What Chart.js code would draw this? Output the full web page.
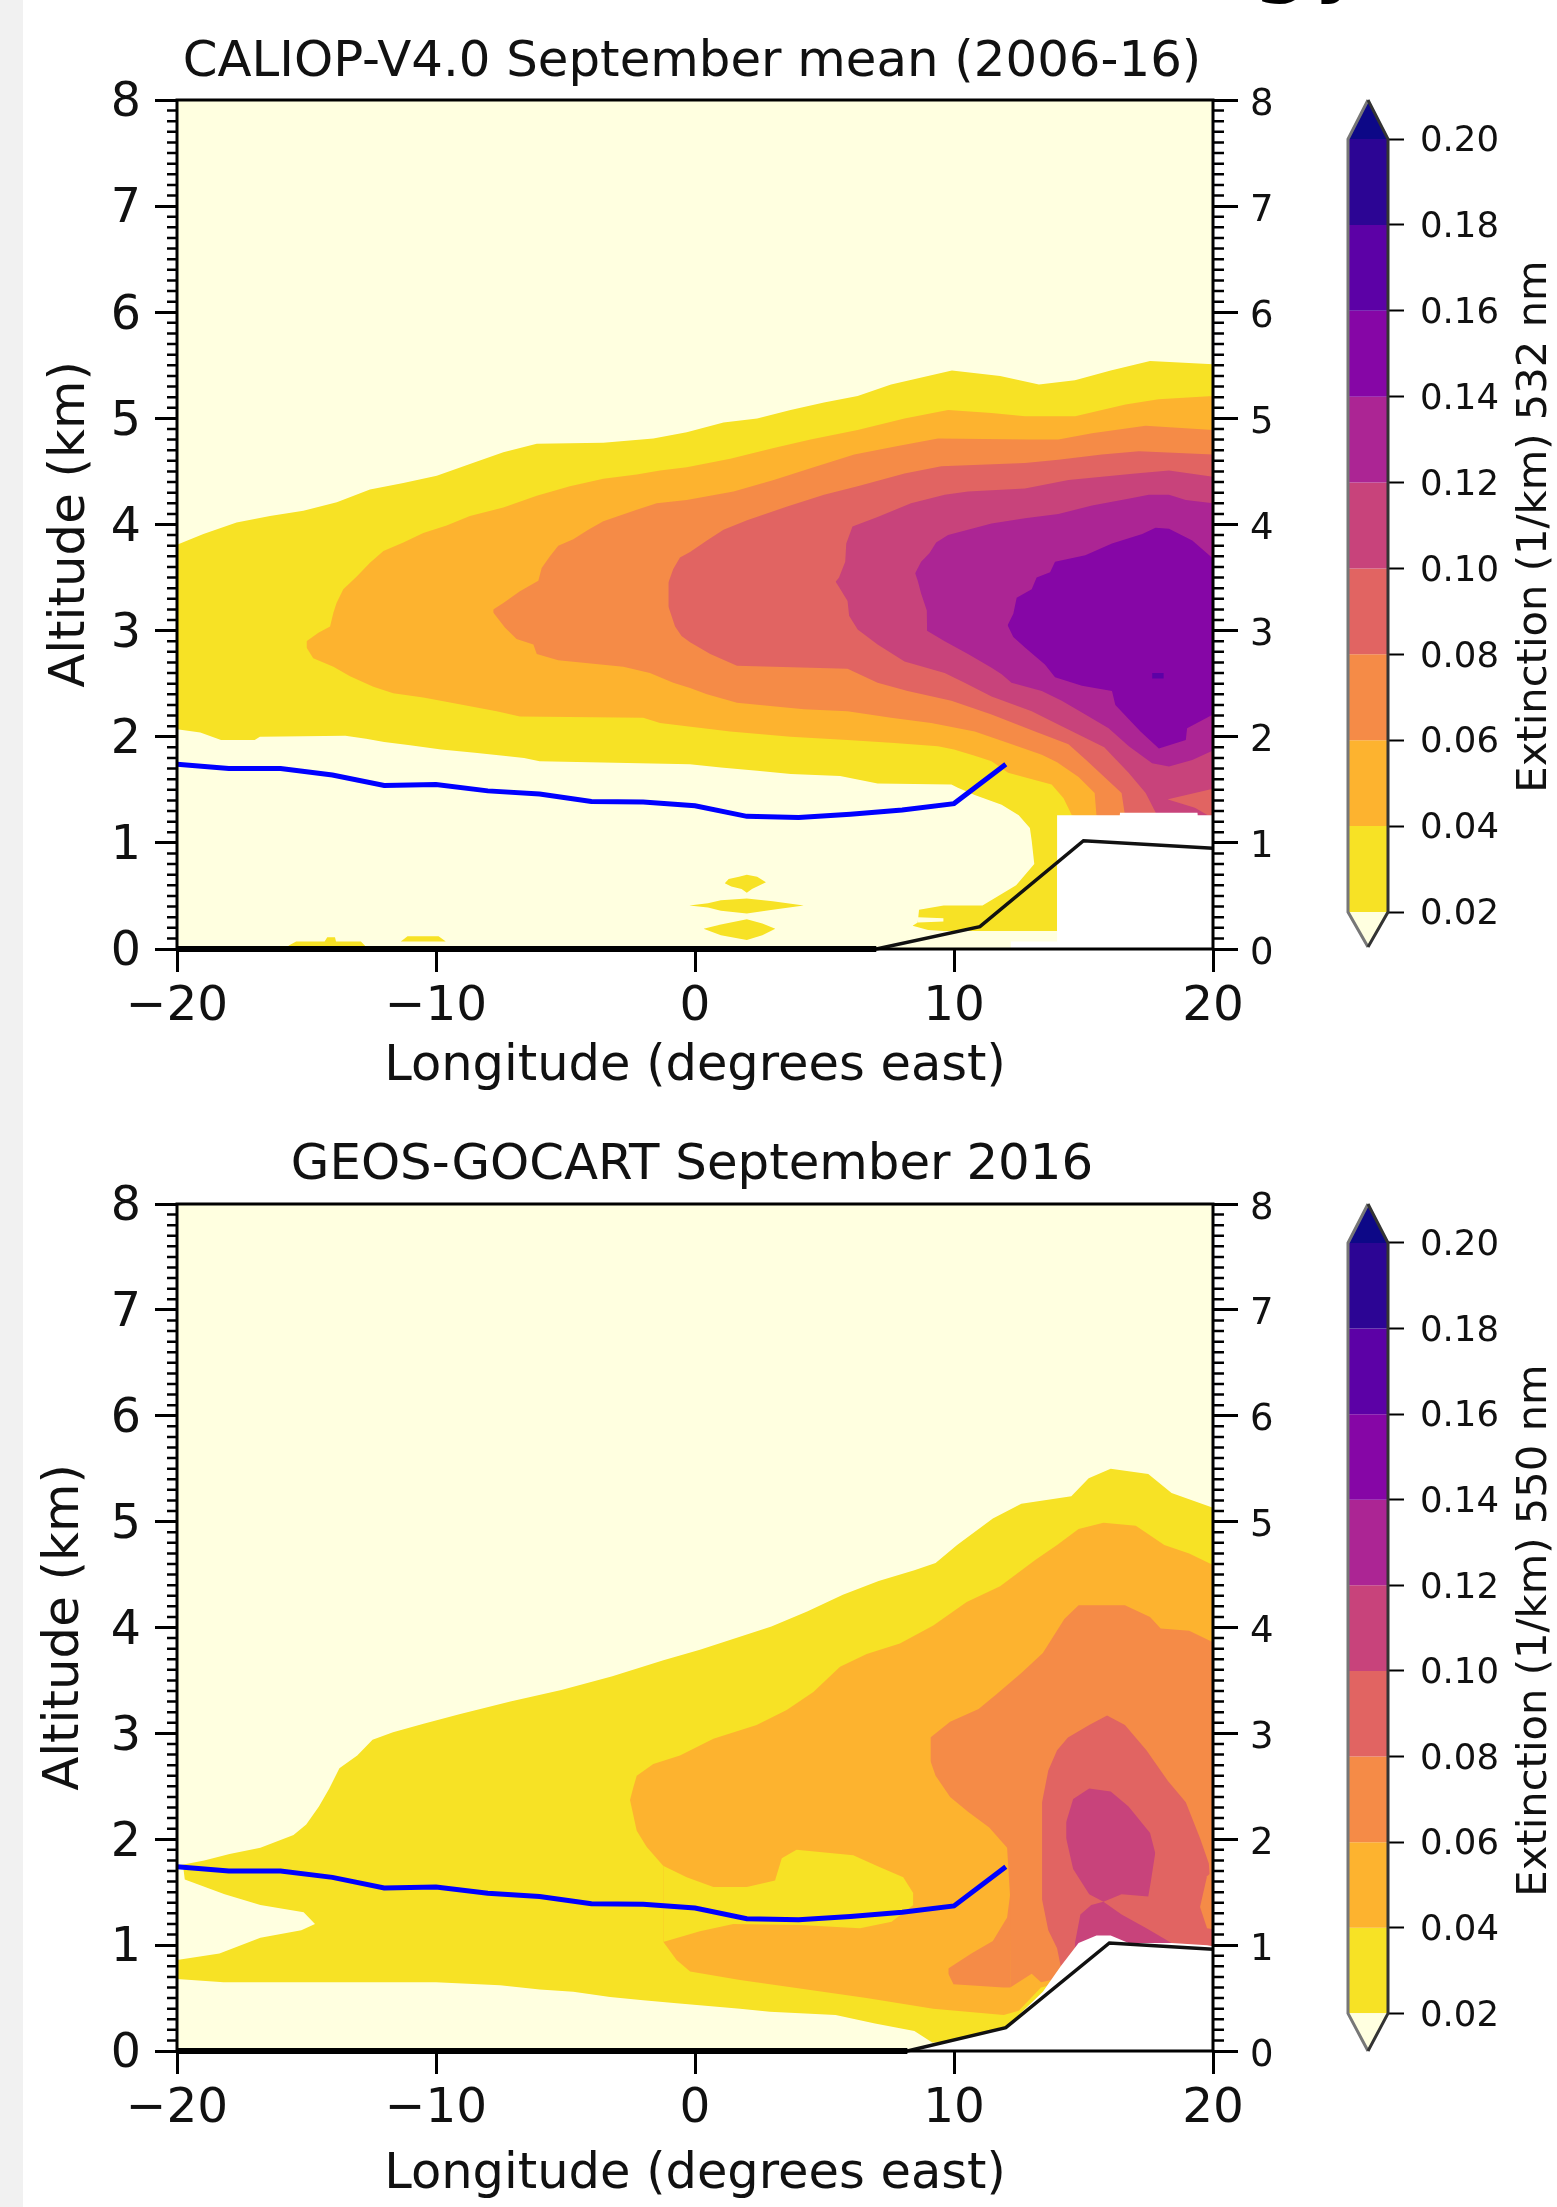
<!DOCTYPE html>
<html>
<head>
<meta charset="utf-8">
<title>CALIOP and GEOS-GOCART extinction</title>
<script src="https://cdn.jsdelivr.net/npm/chart.js@4"></script>
<style>
  html, body { margin: 0; padding: 0; background: #fff; }
  body { position: relative; width: 1557px; height: 2207px; overflow: hidden; }
  canvas { position: absolute; }
  #strip { position: absolute; left: 0; top: 0; width: 23px; height: 2207px; background: #f1f1f1; }
  #cut { position: absolute; left: 1250px; top: -101px; font: 100px/100px "DejaVu Sans"; color: #000; }
</style>
</head>
<body>
<div id="strip"></div>
<div id="cut">gy</div>
<canvas id="top" width="1384" height="1100" style="left:0;top:0"></canvas>
<canvas id="bottom" width="1384" height="1107" style="left:0;top:1100px"></canvas>
<canvas id="barTop" width="267" height="870" style="left:1290px;top:90px"></canvas>
<canvas id="barBottom" width="267" height="870" style="left:1290px;top:1194px"></canvas>
<script>
'use strict';

const xTicks = [-20, -10, 0, 10, 20];
const xTickLabels = ['\u221220', '\u221210', '0', '10', '20'];
const yTicks = [0, 1, 2, 3, 4, 5, 6, 7, 8];
const levels = [0.02, 0.04, 0.06, 0.08, 0.10, 0.12, 0.14, 0.16, 0.18, 0.20];
const levelLabels = ['0.02', '0.04', '0.06', '0.08', '0.10', '0.12', '0.14', '0.16', '0.18', '0.20'];
const underColor = '#ffffe0';
const bandColors = ['#f7e225', '#fdb32f', '#f58b47', '#e16462', '#c8437b', '#ac2594', '#8606a6', '#5c01a6', '#2c0594'];
const overColor = '#0d0887';

// both panels share these curves, [longitude, km]
const pblHeight = [[-20,1.74],[-18,1.70],[-16,1.70],[-14,1.64],[-12,1.54],[-10,1.55],[-8,1.49],[-6,1.46],[-4,1.39],[-2,1.385],[0,1.35],[2,1.25],[4,1.24],[6,1.27],[8,1.31],[10,1.37],[12,1.74]];
const groundTop = [[-20,0],[7,0],[11,0.21],[15,1.02],[20,0.95]];
const groundBottom = [[-20,0],[8.2,0],[12,0.22],[16,1.02],[20,0.96]];

//////////////////// CALIOP contours, edges as [longitude, km] ////////////////////
const cal02Top = [[-20,3.81],[-18.98,3.91],[-17.7,4.02],[-16.41,4.08],[-15.12,4.13],[-13.83,4.21],[-12.55,4.33],[-11.26,4.39],[-9.97,4.46],[-8.69,4.57],[-7.4,4.68],[-6.11,4.76],[-3.54,4.77],[-1.61,4.81],[-0.32,4.87],[1.1,4.96],[2.4,5.0],[3.69,5.08],[4.98,5.15],[6.28,5.21],[7.57,5.32],[9.92,5.45],[11.78,5.40],[13.28,5.32],[14.67,5.36],[16.05,5.45],[17.57,5.54],[20,5.51]];
const cal02Bot = [[-20,2.07],[-19.1,2.04],[-18.3,1.97],[-17,1.97],[-16.8,2.0],[-13.5,2.01],[-12.7,1.98],[-12,1.95],[-11,1.92],[-9.8,1.88],[-8.5,1.85],[-7.4,1.82],[-6.6,1.80],[-6,1.77],[-0.2,1.74],[1.0,1.71],[2.4,1.68],[3.7,1.65],[5.6,1.63],[7.05,1.56],[9.9,1.55],[10.15,1.52],[10.8,1.45],[11.84,1.36],[12.5,1.26],[12.93,1.14],[13.0,1.02],[13.1,0.8],[20,0.8]];
const calLumpTop = [[8.4,0.22],[8.6,0.25],[8.65,0.37],[9.6,0.41],[11.1,0.41],[12.4,0.6],[13.1,0.8],[13.98,0.82]];
const calLumpBot = [[8.4,0.22],[9,0.18],[9.6,0.17],[13.98,0.17]];
const calSlitTop = [[8.6,0.3],[9.6,0.29]];
const calSlitBot = [[8.6,0.25],[9.6,0.26]];
const calBlobATop = [[1.15,0.62],[1.3,0.66],[1.7,0.68],[2.0,0.70],[2.4,0.68],[2.74,0.63]];
const calBlobABot = [[1.15,0.62],[1.4,0.59],[1.8,0.565],[2.0,0.53],[2.2,0.565],[2.74,0.63]];
const calBlobBTop = [[-0.22,0.41],[0.5,0.43],[1.0,0.46],[2,0.475],[3,0.45],[4.2,0.41]];
const calBlobBBot = [[-0.22,0.41],[0.5,0.39],[1,0.36],[2,0.335],[3,0.37],[4.2,0.41]];
const calBlobCTop = [[0.33,0.19],[1,0.23],[2,0.28],[2.6,0.24],[3.1,0.19]];
const calBlobCBot = [[0.33,0.19],[1,0.13],[2,0.085],[2.6,0.13],[3.1,0.19]];
const calBlobDTop = [[-15.7,0.03],[-15.4,0.07],[-14.3,0.07],[-14.2,0.11],[-13.9,0.11],[-13.86,0.07],[-12.9,0.07],[-12.74,0.03]];
const calBlobDBot = [[-15.7,0],[-12.74,0]];
const calBlobETop = [[-11.36,0.07],[-11.1,0.12],[-9.9,0.12],[-9.62,0.07]];
const calBlobEBot = [[-11.36,0.07],[-9.62,0.07]];
const cal04Top = [[-15.0,2.90],[-14.54,2.98],[-14.09,3.04],[-13.96,3.17],[-13.84,3.26],[-13.58,3.39],[-13.06,3.51],[-12.55,3.64],[-12.03,3.75],[-11.26,3.83],[-10.49,3.92],[-9.59,3.99],[-8.69,4.08],[-7.4,4.16],[-6.11,4.27],[-4.83,4.36],[-3.54,4.43],[-2.25,4.47],[-1.35,4.51],[-0.32,4.54],[1.36,4.62],[3.04,4.72],[4.46,4.80],[6.28,4.89],[8.09,5.0],[9.77,5.08],[11.45,5.05],[12.74,5.02],[14.68,5.02],[16.62,5.13],[17.9,5.18],[20,5.21]];
const cal04Bot = [[-15.0,2.84],[-14.74,2.74],[-13.96,2.66],[-13.32,2.57],[-12.42,2.47],[-11.65,2.41],[-10.49,2.37],[-8.94,2.30],[-7.66,2.24],[-6.76,2.19],[-2.0,2.18],[-1.35,2.13],[-0.32,2.10],[1.36,2.05],[3.69,2.0],[5.89,1.97],[7.7,1.94],[9.38,1.91],[10.0,1.88],[10.8,1.82],[11.45,1.77],[12.09,1.66],[12.87,1.61],[13.77,1.55],[14.23,1.42],[14.55,1.26],[20,1]];
const cal06Top = [[-7.79,3.20],[-7.4,3.26],[-6.76,3.37],[-6.05,3.47],[-5.92,3.59],[-5.6,3.7],[-5.28,3.8],[-4.7,3.86],[-4.12,3.95],[-3.54,4.03],[-2.25,4.14],[-1.48,4.2],[-0.32,4.23],[1.49,4.31],[3.04,4.42],[4.46,4.53],[6.15,4.66],[7.83,4.74],[9.38,4.81],[12.87,4.80],[14.03,4.80],[15.33,4.86],[17.4,4.93],[20,4.89]];
const cal06Bot = [[-7.79,3.17],[-7.34,3.03],[-6.89,2.92],[-6.24,2.87],[-6.11,2.78],[-5.28,2.72],[-2.77,2.66],[-1.74,2.60],[-0.84,2.51],[-0.19,2.46],[0.46,2.40],[1.62,2.32],[2.91,2.29],[4.21,2.26],[5.89,2.24],[7.57,2.18],[9.12,2.13],[10.8,2.05],[12.09,1.94],[13.39,1.83],[13.98,1.76],[14.81,1.62],[15.43,1.47],[15.5,1.26],[20,1]];
const cal08Top = [[-1.03,3.45],[-0.84,3.58],[-0.58,3.69],[-0.19,3.74],[0.46,3.85],[1.1,3.95],[2.01,4.04],[3.56,4.17],[4.98,4.28],[6.28,4.36],[8.09,4.48],[9.51,4.55],[12.74,4.58],[14.03,4.61],[15.71,4.66],[17.14,4.69],[20,4.66]];
const cal08Bot = [[-1.03,3.23],[-0.77,3.04],[-0.52,2.95],[-0.19,2.89],[0.59,2.78],[1.62,2.67],[5.89,2.64],[7.05,2.51],[8.21,2.43],[9.9,2.34],[11.45,2.21],[13.13,2.05],[14.42,1.93],[15.1,1.78],[16.47,1.47],[16.6,1.26],[20,1]];
const cal10Top = [[5.43,3.46],[5.56,3.5],[5.8,3.65],[5.84,3.82],[6.08,3.98],[7.05,4.07],[8.34,4.2],[9.64,4.28],[10.54,4.31],[12.74,4.34],[14.42,4.42],[15.71,4.45],[17.0,4.48],[18.3,4.51],[20,4.45]];
const cal10Bot = [[5.43,3.46],[5.56,3.41],[5.89,3.28],[5.95,3.14],[6.28,3.01],[7.05,2.87],[8.09,2.71],[9.64,2.6],[10.41,2.51],[11.45,2.38],[13,2.24],[14.16,2.1],[15.8,1.9],[16.74,1.66],[17.4,1.47],[17.8,1.28],[20,1]];
const cal12Top = [[8.5,3.54],[8.73,3.65],[9.05,3.73],[9.31,3.83],[9.77,3.9],[11.45,4.01],[12.74,4.06],[14.03,4.1],[15.33,4.18],[16.88,4.25],[17.52,4.28],[18.3,4.28],[18.95,4.23],[20,4.2]];
const cal12Bot = [[8.5,3.54],[8.6,3.47],[8.73,3.35],[8.95,3.19],[8.96,3.0],[9.64,2.9],[10.54,2.78],[11.45,2.65],[11.84,2.59],[12.22,2.51],[13.39,2.43],[14.16,2.34],[15.07,2.21],[15.97,2.08],[16.75,1.91],[17.65,1.75],[18.3,1.72],[19.2,1.78],[20,1.87]];
const cal14Top = [[12.07,3.05],[12.29,3.16],[12.42,3.31],[13.0,3.39],[13.19,3.5],[13.71,3.55],[13.9,3.65],[15.07,3.71],[16.1,3.82],[17.27,3.91],[17.78,3.97],[18.3,3.96],[19.2,3.85],[20,3.68]];
const cal14Bot = [[12.07,3.05],[12.29,2.94],[12.74,2.84],[13.51,2.68],[13.9,2.56],[14.94,2.48],[16.1,2.43],[16.23,2.3],[17.2,2.05],[17.91,1.89],[18.95,1.97],[19.0,2.08],[20,2.21]];
const cal16Top = [[17.65,2.6],[18.1,2.6]];
const cal16Bot = [[17.65,2.55],[18.1,2.55]];
const calWedgeTop = [[18.26,1.41],[20,1.51]];
const calWedgeBot = [[18.26,1.41],[19.3,1.33],[19.8,1.26],[20,1.26]];
const calGapTop = [[13.98,1.26],[16.4,1.26],[16.41,1.285],[19.4,1.285],[19.41,1.26],[20,1.26]];
const calGapBot = [[13.98,0],[20,0]];
const calGapLowTop = [[12.2,0.07],[13.98,0.07]];
const calGapLowBot = [[12.2,0],[13.98,0]];

//////////////////// GEOS contours ////////////////////
const geo02Top = [[-20,1.75],[-18.95,1.80],[-17.97,1.86],[-16.78,1.92],[-15.5,2.04],[-15.01,2.14],[-14.52,2.31],[-14.12,2.48],[-13.73,2.67],[-13.04,2.79],[-12.45,2.94],[-11.66,3.01],[-10.48,3.09],[-9.1,3.18],[-7.13,3.30],[-5.16,3.41],[-3.19,3.54],[-1.22,3.69],[0.19,3.79],[2.95,4.01],[4.33,4.15],[5.71,4.31],[7.09,4.44],[8.47,4.54],[9.29,4.61],[10.12,4.78],[11.5,5.03],[12.6,5.17],[14.53,5.24],[15.2,5.41],[16.05,5.5],[17.5,5.45],[18.4,5.27],[20,5.13]];
const geo02Bot = [[-20,0.68],[-18.2,0.65],[-10,0.65],[-7.53,0.62],[-5.99,0.58],[-4.7,0.56],[-3.28,0.51],[-2,0.48],[-0.71,0.45],[1.74,0.40],[2.89,0.37],[5.43,0.34],[6.95,0.26],[8.47,0.19],[9.16,0.08],[10.95,0.08],[11.36,0.12],[12.05,0.22],[20,0.5]];
const geoNotchTop = [[-20,1.75],[-19.75,1.72],[-19.7,1.62],[-18.16,1.48],[-16.78,1.38],[-15.11,1.31],[-14.67,1.2]];
const geoNotchBot = [[-20,0.86],[-18.36,0.92],[-16.78,1.07],[-15.2,1.14],[-14.67,1.2]];
const geo04Top = [[-2.51,2.37],[-2.38,2.49],[-2.25,2.6],[-1.61,2.71],[-0.58,2.79],[0.71,2.95],[2.38,3.08],[3.54,3.22],[4.57,3.39],[5.6,3.63],[6.63,3.75],[7.91,3.85],[9.2,4.02],[10.49,4.24],[11.78,4.39],[13.15,4.64],[13.98,4.78],[14.81,4.93],[15.77,4.99],[17.02,4.96],[18.12,4.78],[19.08,4.7],[20,4.59]];
const geo04Bot = [[-2.51,2.37],[-2.25,2.08],[-1.87,1.93],[-1.23,1.75],[-1.22,1.03],[-0.71,0.86],[-0.19,0.75],[1.74,0.67],[4.05,0.59],[6.62,0.5],[9.2,0.4],[11.92,0.34],[12.5,0.38],[13.36,0.6],[20,1]];
const geoBayTop = [[-1.23,1.75],[-0.32,1.64],[0.71,1.55],[2,1.55],[3.09,1.61],[3.35,1.82],[3.92,1.9],[6.11,1.85],[7.01,1.75],[8.04,1.64],[8.43,1.49]];
const geoBayBot = [[-1.23,1.03],[0.19,1.13],[1.48,1.2],[4.05,1.19],[6.37,1.16],[7.59,1.22],[8.43,1.38]];
const geo06Top = [[9.09,2.96],[9.85,3.11],[10.95,3.23],[11.64,3.37],[12.6,3.57],[13.43,3.76],[14.26,4.08],[14.81,4.21],[16.6,4.21],[17.57,4.1],[17.98,3.99],[19.08,3.97],[20,3.86]];
const geo06Bot = [[9.09,2.74],[9.29,2.6],[9.85,2.4],[10.54,2.26],[11.36,2.11],[12.05,1.92],[12.16,1.48],[12.17,0.6],[13,0.73],[13.36,0.65],[20,1]];
const geoLobeTop = [[9.78,0.78],[10.67,0.92],[11.5,1.04],[12.05,1.26],[12.17,1.48]];
const geoLobeBot = [[9.78,0.73],[9.98,0.63],[11.91,0.6],[12.17,0.6]];
const geo08Top = [[13.4,2.35],[13.64,2.65],[13.98,2.84],[14.4,2.96],[15.22,3.08],[15.91,3.17],[16.6,3.08],[17.43,2.84],[18.26,2.55],[18.95,2.35],[19.5,2.01],[19.84,1.77],[20,1.15]];
const geo08Bot = [[13.4,1.43],[13.64,1.14],[13.98,0.97],[14.12,0.8],[20,0.9]];
const geoSideTop = [[19.5,1.36],[19.77,1.65],[20,1.7]];
const geoSideBot = [[19.5,1.36],[19.77,1.16],[20,1.15]];
const geo10aTop = [[14.33,2.16],[14.6,2.38],[15.22,2.48],[16.05,2.45],[16.74,2.31],[17.57,2.06],[17.77,1.87]];
const geo10aBot = [[14.33,2.01],[14.6,1.72],[15.22,1.48],[15.77,1.41],[16.47,1.48],[17.5,1.46],[17.6,1.6],[17.77,1.87]];
const geo10bTop = [[14.67,1.02],[14.88,1.29],[15.3,1.38],[15.77,1.41],[16.47,1.29],[17.43,1.16],[18.4,1.02]];
const geo10bBot = [[14.67,0.9],[18.4,0.9]];
const geoGapTop = [[8.19,0],[12,0.22],[13.43,0.56],[14.12,0.8],[14.81,1.02],[15.5,1.09],[16.05,1.09],[16.74,1.02],[18.4,1.02],[19.77,1.0],[20,0.99]];
const geoGapBot = [[8.19,0],[20,0]];

const wholeTop = [[-20,8],[20,8]];
const wholeBot = [[-20,0],[20,0]];

const [c02, c04, c06, c08, c10, c12, c14, c16] = bandColors;

// painted in this order, later ones on top
const caliopLayers = [
  [underColor, wholeTop, wholeBot],
  [c02, cal02Top, cal02Bot], [c02, calLumpTop, calLumpBot], [underColor, calSlitTop, calSlitBot],
  [c02, calBlobATop, calBlobABot], [c02, calBlobBTop, calBlobBBot], [c02, calBlobCTop, calBlobCBot],
  [c02, calBlobDTop, calBlobDBot], [c02, calBlobETop, calBlobEBot],
  [c04, cal04Top, cal04Bot], [c06, cal06Top, cal06Bot], [c08, cal08Top, cal08Bot], [c10, cal10Top, cal10Bot],
  [c12, cal12Top, cal12Bot], [c14, cal14Top, cal14Bot], [c16, cal16Top, cal16Bot], [c08, calWedgeTop, calWedgeBot],
  ['#ffffff', calGapTop, calGapBot], ['#ffffff', calGapLowTop, calGapLowBot]
];
const geosLayers = [
  [underColor, wholeTop, wholeBot],
  [c02, geo02Top, geo02Bot], [underColor, geoNotchTop, geoNotchBot],
  [c04, geo04Top, geo04Bot], [c02, geoBayTop, geoBayBot],
  [c06, geo06Top, geo06Bot], [c06, geoLobeTop, geoLobeBot],
  [c08, geo08Top, geo08Bot], [c06, geoSideTop, geoSideBot],
  [c10, geo10aTop, geo10aBot], [c10, geo10bTop, geo10bBot],
  ['#ffffff', geoGapTop, geoGapBot]
];

const FONT = '"DejaVu Sans"';
const TEXT = '#111';

function toPoints(pairs) {
  return pairs.map(function (p) { return {x: p[0], y: p[1]}; });
}

function buildDatasets(layers, lines) {
  const sets = [];
  layers.forEach(function (l) {
    sets.push({data: toPoints(l[1]), fill: '+1', backgroundColor: l[0], borderWidth: 0, pointRadius: 0});
    sets.push({data: toPoints(l[2]), fill: false, borderWidth: 0, pointRadius: 0});
  });
  lines.forEach(function (l) {
    sets.push({data: toPoints(l.pairs), fill: false, borderColor: l.color, borderWidth: l.width, pointRadius: 0, clip: l.clip});
  });
  // chart.js paints the highest order first
  sets.forEach(function (s, i) { s.order = 1000 - i; });
  return sets;
}

const frame = {
  id: 'frame',
  afterDatasetsDraw(chart) {
    const ctx = chart.ctx;
    const a = chart.chartArea;
    ctx.save();
    ctx.strokeStyle = '#000';
    ctx.lineWidth = 3;
    ctx.strokeRect(a.left, a.top, a.right - a.left, a.bottom - a.top);
    ctx.lineWidth = 2.5;
    ctx.beginPath();
    for (let i = 1; i < 80; i++) {
      if (i % 10 === 0) continue;
      const py = chart.scales.y.getPixelForValue(i / 10);
      ctx.moveTo(a.left - 10, py);
      ctx.lineTo(a.left, py);
      ctx.moveTo(a.right, py);
      ctx.lineTo(a.right + 11, py);
    }
    ctx.stroke();
    ctx.restore();
  }
};

function panel(id, cfg) {
  return new Chart(document.getElementById(id), {
    type: 'line',
    data: {datasets: buildDatasets(cfg.layers, [
      {pairs: cfg.ground, color: '#111', width: 3.5, clip: false},
      {pairs: cfg.ground.slice(0, 2), color: '#000', width: 6, clip: false},
      {pairs: pblHeight, color: '#0000ff', width: 5}
    ])},
    plugins: [frame],
    options: {
      responsive: false,
      animation: false,
      events: [],
      layout: {padding: 0},
      plugins: {
        legend: {display: false},
        tooltip: {enabled: false},
        title: {
          display: true,
          text: cfg.title,
          color: TEXT,
          font: {family: FONT, size: 49.8, weight: 'normal', lineHeight: 1},
          padding: {top: cfg.titleTop, bottom: cfg.areaTop - cfg.titleTop - 49.8}
        }
      },
      scales: {
        x: {
          type: 'linear', min: -20, max: 20,
          afterBuildTicks(s) { s.ticks = xTicks.map(function (v) { return {value: v}; }); },
          afterFit(s) { s.height = cfg.bottomHeight; },
          grid: {drawOnChartArea: false, tickLength: 23, tickWidth: 3, tickColor: '#000'},
          border: {display: false},
          ticks: {
            autoSkip: false, maxRotation: 0, padding: 6, color: TEXT,
            font: {family: FONT, size: 48.5},
            callback: function (v, i) { return xTickLabels[i]; }
          },
          title: {
            display: true, text: 'Longitude (degrees east)', color: TEXT,
            font: {family: FONT, size: 49.5, lineHeight: 1},
            padding: {top: 0, bottom: cfg.xTitlePad}
          }
        },
        y: {
          type: 'linear', position: 'left', min: 0, max: 8,
          afterBuildTicks(s) { s.ticks = yTicks.map(function (v) { return {value: v}; }); },
          afterFit(s) { s.width = 177; },
          grid: {drawOnChartArea: false, tickLength: 22, tickWidth: 3, tickColor: '#000'},
          border: {display: false},
          ticks: {autoSkip: false, padding: 14, labelOffset: 4, color: TEXT, font: {family: FONT, size: 47.5}},
          title: {
            display: true, text: 'Altitude (km)', color: TEXT,
            font: {family: FONT, size: 49.8, lineHeight: 1},
            padding: {top: cfg.yTitlePad, bottom: 0}
          }
        },
        y2: {
          type: 'linear', position: 'right', min: 0, max: 8,
          afterBuildTicks(s) { s.ticks = yTicks.map(function (v) { return {value: v}; }); },
          afterFit(s) { s.width = 171; },
          grid: {drawOnChartArea: false, tickLength: 25, tickWidth: 3, tickColor: '#000'},
          border: {display: false},
          ticks: {autoSkip: false, padding: 12, labelOffset: 5, color: TEXT, font: {family: FONT, size: 37}}
        }
      }
    }
  });
}

panel('top', {
  layers: caliopLayers, ground: groundTop,
  title: 'CALIOP-V4.0 September mean (2006-16)',
  titleTop: 38, areaTop: 100, bottomHeight: 151, xTitlePad: 8.5, yTitlePad: 46
});
panel('bottom', {
  layers: geosLayers, ground: groundBottom,
  title: 'GEOS-GOCART September 2016',
  titleTop: 41, areaTop: 104, bottomHeight: 156, xTitlePad: 7.5, yTitlePad: 40.5
});

//////////////////// colour bars ////////////////////
const arrowHigh = 0.0091;

function colorbar(id, label, arrowLow) {
  const layers = [];
  for (let i = 0; i < bandColors.length; i++) {
    layers.push([bandColors[i], [[0, levels[i + 1]], [1, levels[i + 1]]], [[0, levels[i]], [1, levels[i]]]]);
  }
  const hi = levels[levels.length - 1];
  const lo = levels[0];
  layers.push([overColor, [[0, hi], [0.5, hi + arrowHigh], [1, hi]], [[0, hi], [1, hi]]]);
  layers.push([underColor, [[0, lo], [1, lo]], [[0, lo], [0.5, lo - arrowLow], [1, lo]]]);

  const leftEdge = [[0.5, lo - arrowLow], [0, lo], [0, hi], [0.5, hi + arrowHigh]];
  const rightEdge = [[0.5, lo - arrowLow], [1, lo], [1, hi], [0.5, hi + arrowHigh]];

  const barTitle = {
    id: 'barTitle',
    afterDraw(chart) {
      const ctx = chart.ctx;
      ctx.save();
      ctx.translate(245, (chart.chartArea.top + chart.chartArea.bottom) / 2 + 3);
      ctx.rotate(-Math.PI / 2);
      ctx.textAlign = 'center';
      ctx.textBaseline = 'middle';
      ctx.fillStyle = TEXT;
      ctx.font = '41.7px ' + FONT;
      ctx.fillText(label, 0, 0);
      ctx.restore();
    }
  };

  return new Chart(document.getElementById(id), {
    type: 'line',
    data: {datasets: buildDatasets(layers, [
      {pairs: leftEdge, color: '#777', width: 3, clip: false},
      {pairs: rightEdge, color: '#333', width: 3, clip: false}
    ])},
    plugins: [barTitle],
    options: {
      responsive: false,
      animation: false,
      events: [],
      layout: {padding: {left: 58, top: 10, bottom: 13}},
      plugins: {legend: {display: false}, tooltip: {enabled: false}},
      scales: {
        x: {type: 'linear', min: 0, max: 1, display: false},
        y: {
          type: 'linear', position: 'right', min: lo - arrowLow, max: hi + arrowHigh,
          afterBuildTicks(s) { s.ticks = levels.map(function (v) { return {value: v}; }); },
          // the end labels sit well inside the bar, so no room is needed for them
          afterFit(s) { s.width = 169; s.paddingTop = 0; s.paddingBottom = 0; },
          grid: {drawOnChartArea: false, tickLength: 16, tickWidth: 2, tickColor: '#000'},
          border: {display: false},
          ticks: {
            autoSkip: false, padding: 16, labelOffset: 3, color: TEXT,
            font: {family: FONT, size: 35.5},
            callback: function (v, i) { return levelLabels[i]; }
          }
        }
      }
    }
  });
}

colorbar('barTop', 'Extinction (1/km) 532 nm', 0.00815);
colorbar('barBottom', 'Extinction (1/km) 550 nm', 0.0088);
</script>
</body>
</html>
